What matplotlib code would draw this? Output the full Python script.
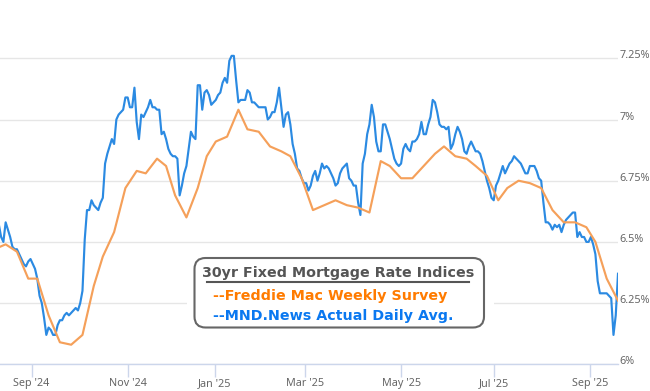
import numpy as np
import pandas as pd
import matplotlib
matplotlib.use("Agg")
import matplotlib.pyplot as plt
from matplotlib.patches import FancyBboxPatch, Rectangle
from matplotlib.lines import Line2D
from matplotlib.ticker import FuncFormatter

# ---------------- data ----------------
market_holidays = ["2024-09-02", "2024-10-14", "2024-11-11", "2024-11-28", "2024-11-29",
                   "2024-12-25", "2025-01-01", "2025-01-20", "2025-02-17", "2025-04-18",
                   "2025-05-26", "2025-06-19", "2025-07-04", "2025-09-01"]

mnd_first_day = "2024-08-12"
mnd_last_day = "2025-09-18"
mnd_rates = [
    6.57, 6.52, 6.50, 6.58, 6.55, 6.52, 6.48, 6.47, 6.47, 6.45,
    6.43, 6.41, 6.40, 6.42, 6.43, 6.41, 6.39, 6.35, 6.28, 6.25,
    6.19, 6.12, 6.15, 6.14, 6.12, 6.12, 6.16, 6.18, 6.18, 6.20,
    6.21, 6.20, 6.21, 6.22, 6.23, 6.22, 6.25, 6.30, 6.51, 6.63,
    6.63, 6.67, 6.65, 6.64, 6.63, 6.66, 6.68, 6.82, 6.86, 6.89,
    6.92, 6.90, 7.00, 7.02, 7.03, 7.04, 7.09, 7.09, 7.05, 7.05,
    7.13, 6.99, 6.92, 7.02, 7.01, 7.03, 7.05, 7.08, 7.05, 7.05,
    7.04, 7.04, 6.94, 6.95, 6.92, 6.88, 6.86, 6.85, 6.85, 6.84,
    6.69, 6.73, 6.78, 6.81, 6.88, 6.95, 6.93, 6.92, 7.14, 7.14,
    7.04, 7.11, 7.12, 7.10, 7.06, 7.07, 7.08, 7.10, 7.11, 7.15,
    7.17, 7.15, 7.24, 7.26, 7.26, 7.16, 7.07, 7.08, 7.08, 7.08,
    7.12, 7.11, 7.07, 7.07, 7.06, 7.05, 7.05, 7.05, 7.05, 7.00,
    7.01, 7.03, 7.03, 7.07, 7.13, 7.05, 6.97, 7.02, 7.03, 6.98,
    6.90, 6.86, 6.80, 6.79, 6.76, 6.74, 6.74, 6.71, 6.73, 6.77,
    6.79, 6.75, 6.78, 6.82, 6.80, 6.81, 6.80, 6.78, 6.76, 6.73,
    6.74, 6.78, 6.80, 6.81, 6.82, 6.76, 6.75, 6.73, 6.73, 6.66,
    6.61, 6.82, 6.86, 6.94, 6.98, 7.06, 7.01, 6.91, 6.87, 6.87,
    6.98, 6.98, 6.95, 6.92, 6.88, 6.84, 6.82, 6.81, 6.82, 6.88,
    6.90, 6.88, 6.87, 6.91, 6.91, 6.92, 6.94, 6.99, 6.94, 6.94,
    6.98, 7.01, 7.08, 7.07, 7.03, 6.98, 6.97, 6.97, 6.96, 6.97,
    6.88, 6.90, 6.94, 6.97, 6.95, 6.92, 6.87, 6.86, 6.89, 6.91,
    6.89, 6.87, 6.87, 6.86, 6.83, 6.79, 6.75, 6.72, 6.68, 6.67,
    6.73, 6.75, 6.78, 6.81, 6.78, 6.80, 6.82, 6.83, 6.85, 6.84,
    6.83, 6.82, 6.80, 6.78, 6.78, 6.81, 6.81, 6.81, 6.79, 6.76,
    6.75, 6.66, 6.58, 6.58, 6.57, 6.55, 6.57, 6.56, 6.57, 6.54,
    6.57, 6.59, 6.60, 6.61, 6.62, 6.62, 6.52, 6.54, 6.52, 6.52,
    6.50, 6.50, 6.52, 6.49, 6.45, 6.34, 6.29, 6.29, 6.29, 6.29,
    6.28, 6.27, 6.12, 6.20, 6.37,
]

freddie_dates = [
    "2024-08-08", "2024-08-15", "2024-08-22", "2024-08-29", "2024-09-05", "2024-09-12",
    "2024-09-19", "2024-09-26", "2024-10-03", "2024-10-10", "2024-10-17", "2024-10-24",
    "2024-10-31", "2024-11-07", "2024-11-14", "2024-11-21", "2024-11-27", "2024-12-05",
    "2024-12-12", "2024-12-19", "2024-12-26", "2025-01-02", "2025-01-09", "2025-01-16",
    "2025-01-23", "2025-01-30", "2025-02-06", "2025-02-13", "2025-02-20", "2025-02-27",
    "2025-03-06", "2025-03-13", "2025-03-20", "2025-03-27", "2025-04-03", "2025-04-10",
    "2025-04-17", "2025-04-24", "2025-05-01", "2025-05-08", "2025-05-15", "2025-05-22",
    "2025-05-29", "2025-06-05", "2025-06-12", "2025-06-18", "2025-06-26", "2025-07-03",
    "2025-07-10", "2025-07-17", "2025-07-24", "2025-07-31", "2025-08-07", "2025-08-14",
    "2025-08-21", "2025-08-28", "2025-09-04", "2025-09-11", "2025-09-18",
]
freddie_rates = [
    6.47, 6.49, 6.46, 6.35, 6.35, 6.20,
    6.09, 6.08, 6.12, 6.32, 6.44, 6.54,
    6.72, 6.79, 6.78, 6.84, 6.81, 6.69,
    6.60, 6.72, 6.85, 6.91, 6.93, 7.04,
    6.96, 6.95, 6.89, 6.87, 6.85, 6.76,
    6.63, 6.65, 6.67, 6.65, 6.64, 6.62,
    6.83, 6.81, 6.76, 6.76, 6.81, 6.86,
    6.89, 6.85, 6.84, 6.81, 6.77, 6.67,
    6.72, 6.75, 6.74, 6.72, 6.63, 6.58,
    6.58, 6.56, 6.50, 6.35, 6.26,
]

y_ticks = [6.0, 6.25, 6.5, 6.75, 7.0, 7.25]
x_tick_months = ["2024-09-01", "2024-11-01", "2025-01-01", "2025-03-01",
                 "2025-05-01", "2025-07-01", "2025-09-01"]
legend_title = "30yr Fixed Mortgage Rate Indices"
freddie_label = "--Freddie Mac Weekly Survey"
mnd_label = "--MND.News Actual Daily Avg."

# ---------------- ordinal (trading-day) axis ----------------
calendar = pd.bdate_range("2024-08-01", mnd_last_day, freq="C", holidays=market_holidays)
position = pd.Series(np.arange(len(calendar), dtype=float), index=calendar)
mnd_days = calendar[calendar >= pd.Timestamp(mnd_first_day)]
n = min(len(mnd_days), len(mnd_rates))
mnd_x = position[mnd_days[:n]].values
mnd_y = np.array(mnd_rates[:n])
fr_x = position[pd.to_datetime(freddie_dates)].values
fr_y = np.array(freddie_rates)

cal_ord = np.array([d.toordinal() for d in calendar])
tick_dates = pd.to_datetime(x_tick_months)
tick_pos = np.interp([d.toordinal() for d in tick_dates], cal_ord, position.values)
tick_labels = [d.strftime("%b '%y") for d in tick_dates]

# ---------------- figure ----------------
W, H = 650, 391
fig = plt.figure(figsize=(W / 100, H / 100), dpi=100)
fig.patch.set_facecolor("white")
ax_bottom = 26.7
ax_h = 1.5 * 244.8
ax = fig.add_axes([0, ax_bottom / H, 618 / W, ax_h / H])
ax.set_facecolor("white")

ax.plot(mnd_x, mnd_y, color="#2b8ae2", lw=1.55, zorder=2, solid_joinstyle="round")
ax.plot(fr_x, fr_y, color="#f5a05a", lw=1.55, zorder=3, solid_joinstyle="round")

ax.set_xlim(position[pd.Timestamp(mnd_first_day)] + 0.5, position.iloc[-1])
ax.set_ylim(6.0, 7.5)

label_font = "Noto Sans"
ax.set_yticks(y_ticks)
ax.yaxis.set_major_formatter(FuncFormatter(lambda v, p: f"{v:g}%"))
ax.yaxis.tick_right()
ax.tick_params(axis="y", length=0, pad=1.0, labelsize=7.8, labelcolor="#666666")
for lab in ax.get_yticklabels():
    lab.set_verticalalignment("baseline")
    lab.set_fontfamily(label_font)
ax.yaxis.grid(True, color="#e6e6e6", lw=1.0)
ax.set_axisbelow(True)

ax.set_xticks(tick_pos)
ax.set_xticklabels(tick_labels)
ax.tick_params(axis="x", length=9, width=1, color="#ccd6eb", labelsize=7.8,
               labelcolor="#666666", pad=0.8)
for lab in ax.get_xticklabels():
    lab.set_fontfamily(label_font)
for s in ["top", "left", "right"]:
    ax.spines[s].set_visible(False)
ax.spines["bottom"].set_color("#ccd6eb")
ax.spines["bottom"].set_linewidth(1.0)

# ---------------- legend box (pixel layout, top-left origin) ----------------
T = fig.dpi_scale_trans


def P(x, y):
    return x / 100, (H - y) / 100


fig.patches.append(Rectangle(P(187, 327), 3.07, 0.77, transform=T, fc="white",
                             ec="none", zorder=5))
fig.patches.append(FancyBboxPatch(P(194.5, 327.5), 2.895, 0.695,
                                  boxstyle="round,pad=0,rounding_size=0.11",
                                  transform=T, fc="white", ec="#666666", lw=1.5, zorder=6))
fig.text(*P(338, 276.7), legend_title, transform=T, ha="center", va="baseline",
         fontsize=10.3, fontweight="bold", color="#555555", zorder=7)
fig.lines.append(Line2D([2.07, 4.69], [(H - 281.7) / 100] * 2, transform=T,
                        color="#555555", lw=1.5, zorder=7))
fig.text(*P(213, 300), freddie_label, transform=T, ha="left", va="baseline",
         fontsize=10.3, fontweight="bold", color="#ff7b00", zorder=7)
fig.text(*P(213, 320), mnd_label, transform=T, ha="left", va="baseline",
         fontsize=10.3, fontweight="bold", color="#0a78f0", zorder=7)

fig.savefig("out.png", dpi=100, facecolor="white")
